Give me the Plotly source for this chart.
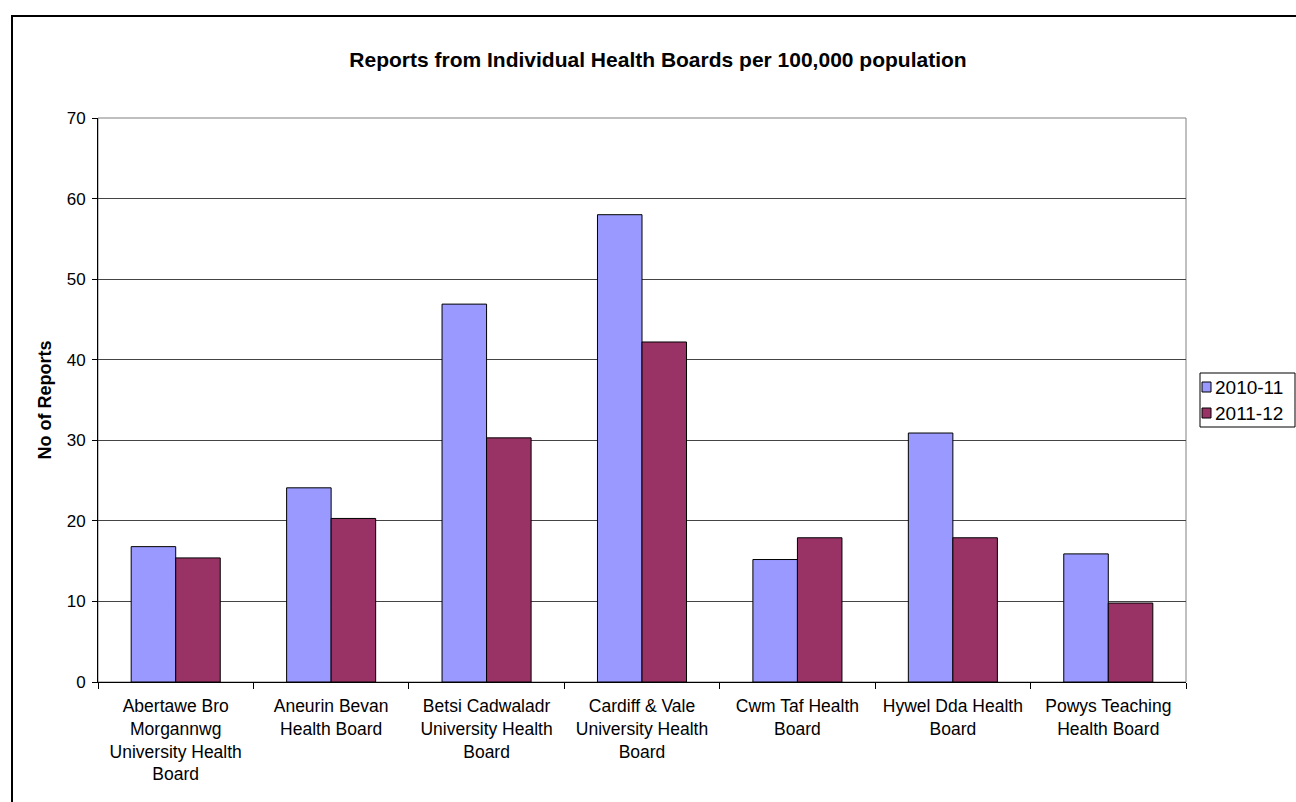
import plotly.graph_objects as go

categories = [
    "Abertawe Bro<br>Morgannwg<br>University Health<br>Board",
    "Aneurin Bevan<br>Health Board",
    "Betsi Cadwaladr<br>University Health<br>Board",
    "Cardiff & Vale<br>University Health<br>Board",
    "Cwm Taf Health<br>Board",
    "Hywel Dda Health<br>Board",
    "Powys Teaching<br>Health Board",
]
series_names = ["2010-11", "2011-12"]
series_colors = ["#9999FF", "#993366"]
values_2010_11 = [16.8, 24.1, 46.9, 58.0, 15.2, 30.9, 15.9]
values_2011_12 = [15.4, 20.3, 30.3, 42.2, 17.9, 17.9, 9.8]
y_ticks = [0, 10, 20, 30, 40, 50, 60, 70]

FONT = "Arial, Liberation Sans, sans-serif"

fig = go.Figure()
for name, vals, col in zip(series_names, [values_2010_11, values_2011_12], series_colors):
    fig.add_trace(go.Bar(x=categories, y=vals, name=name,
                         marker=dict(color=col, line=dict(color="#000000", width=1))))

L, R, T, B = 98, 1186, 118, 682
W, H = 1296, 802
pw, ph = R - L, B - T

def px(x):
    return (x - L) / pw

def py(y):
    return (B - y) / ph

# custom legend box (legend entries drawn as shapes + text)
shapes = [
    dict(type="rect", xref="paper", yref="paper", x0=0, x1=1, y0=0, y1=1,
         line=dict(color="#808080", width=1), layer="below"),
    dict(type="rect", xref="paper", yref="paper",
         x0=px(12), y0=py(16), x1=px(1330), y1=py(840),
         line=dict(color="#000000", width=2), fillcolor="rgba(0,0,0,0)"),
    dict(type="rect", xref="paper", yref="paper",
         x0=px(1200), y0=py(373), x1=px(1295), y1=py(427),
         line=dict(color="#000000", width=1), fillcolor="white"),
]
annotations = []
for i, (name, col) in enumerate(zip(series_names, series_colors)):
    cy = 387 + i * 26
    shapes.append(dict(type="rect", xref="paper", yref="paper",
                       x0=px(1202), x1=px(1211), y0=py(cy - 5), y1=py(cy + 5),
                       line=dict(color="#000000", width=1), fillcolor=col))
    annotations.append(dict(text=name, xref="paper", yref="paper",
                            x=px(1213), y=py(cy), xanchor="left", yanchor="middle",
                            showarrow=False, font=dict(family=FONT, size=19, color="#000000")))

fig.update_layout(
    width=W, height=H,
    margin=dict(l=L, r=W - R, t=T, b=H - B, pad=0, autoexpand=False),
    paper_bgcolor="white", plot_bgcolor="white",
    font=dict(family=FONT, size=17, color="#000000"),
    barmode="group", bargap=0.427, bargroupgap=0,
    title=dict(text="<b>Reports from Individual Health Boards per 100,000 population</b>",
               x=658 / W, xanchor="center", xref="container", y=1 - 60 / H, yanchor="middle",
               font=dict(family=FONT, size=21, color="#000000")),
    showlegend=False,
    xaxis=dict(type="category", tickson="boundaries", ticks="outside", ticklen=6,
               tickcolor="#000000", showline=True, linecolor="#000000", linewidth=1,
               showgrid=False, tickfont=dict(family=FONT, size=17.5), tickangle=0,
               ticklabelstandoff=8),
    yaxis=dict(range=[0, 70], tickvals=y_ticks, ticks="outside", ticklen=5,
               tickcolor="#000000", showline=True, linecolor="#000000", linewidth=1,
               showgrid=True, gridcolor="#444444", gridwidth=1, zeroline=False,
               tickfont=dict(family=FONT, size=17), ticklabelstandoff=3,
               title=dict(text="<b>No of Reports</b>", font=dict(family=FONT, size=18), standoff=10)),
    shapes=shapes,
    annotations=annotations,
)

fig.write_html("out.html")
